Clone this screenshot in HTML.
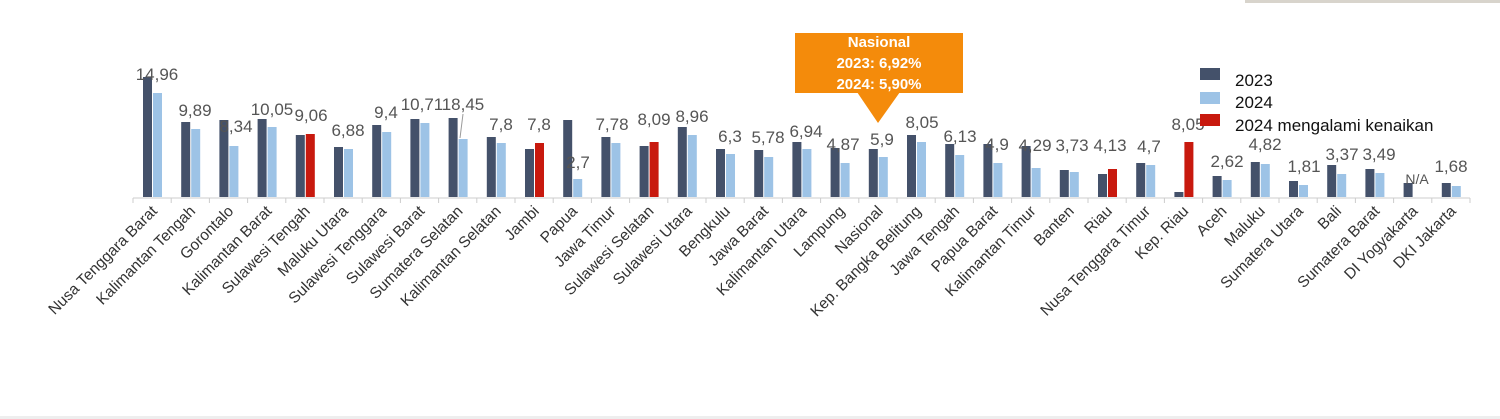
<!DOCTYPE html>
<html><head><meta charset="utf-8"><style>
html,body{margin:0;padding:0;background:#fff;}
svg{display:block;}
.v{font-family:"Liberation Sans",sans-serif;font-size:17px;fill:#555;text-anchor:middle;}
.c{font-family:"Liberation Sans",sans-serif;font-size:15.5px;fill:#333;text-anchor:end;}
.d{fill:#44516a;} .l{fill:#9dc3e6;} .r{fill:#c8190e;}
.lg{font-family:"Liberation Sans",sans-serif;font-size:17px;fill:#111;}
</style></head><body>
<svg width="1500" height="419" viewBox="0 0 1500 419" xmlns="http://www.w3.org/2000/svg">
<rect x="1245" y="0" width="255" height="3" fill="#d8d4cc"/>
<rect x="0" y="416" width="1500" height="3" fill="#eeeeee"/>
<line x1="133" y1="198" x2="1470" y2="198" stroke="#ccc" stroke-width="1"/>
<g stroke="#ccc">
<line x1="133" y1="198" x2="133" y2="203"/><line x1="171.2" y1="198" x2="171.2" y2="203"/><line x1="209.4" y1="198" x2="209.4" y2="203"/><line x1="247.6" y1="198" x2="247.6" y2="203"/><line x1="285.8" y1="198" x2="285.8" y2="203"/><line x1="324" y1="198" x2="324" y2="203"/><line x1="362.2" y1="198" x2="362.2" y2="203"/><line x1="400.4" y1="198" x2="400.4" y2="203"/><line x1="438.6" y1="198" x2="438.6" y2="203"/><line x1="476.8" y1="198" x2="476.8" y2="203"/><line x1="515" y1="198" x2="515" y2="203"/><line x1="553.2" y1="198" x2="553.2" y2="203"/><line x1="591.4" y1="198" x2="591.4" y2="203"/><line x1="629.6" y1="198" x2="629.6" y2="203"/><line x1="667.8" y1="198" x2="667.8" y2="203"/><line x1="706" y1="198" x2="706" y2="203"/><line x1="744.2" y1="198" x2="744.2" y2="203"/><line x1="782.4" y1="198" x2="782.4" y2="203"/><line x1="820.6" y1="198" x2="820.6" y2="203"/><line x1="858.8" y1="198" x2="858.8" y2="203"/><line x1="897" y1="198" x2="897" y2="203"/><line x1="935.2" y1="198" x2="935.2" y2="203"/><line x1="973.4" y1="198" x2="973.4" y2="203"/><line x1="1011.6" y1="198" x2="1011.6" y2="203"/><line x1="1049.8" y1="198" x2="1049.8" y2="203"/><line x1="1088" y1="198" x2="1088" y2="203"/><line x1="1126.2" y1="198" x2="1126.2" y2="203"/><line x1="1164.4" y1="198" x2="1164.4" y2="203"/><line x1="1202.6" y1="198" x2="1202.6" y2="203"/><line x1="1240.8" y1="198" x2="1240.8" y2="203"/><line x1="1279" y1="198" x2="1279" y2="203"/><line x1="1317.2" y1="198" x2="1317.2" y2="203"/><line x1="1355.4" y1="198" x2="1355.4" y2="203"/><line x1="1393.6" y1="198" x2="1393.6" y2="203"/><line x1="1431.8" y1="198" x2="1431.8" y2="203"/><line x1="1470" y1="198" x2="1470" y2="203"/>
</g>
<rect class="d" x="143" y="77" width="9" height="120"/><rect class="l" x="153" y="93" width="9" height="104"/>
<rect class="d" x="181.2" y="122" width="9" height="75"/><rect class="l" x="191.2" y="129" width="9" height="68"/>
<rect class="d" x="219.4" y="120" width="9" height="77"/><rect class="l" x="229.4" y="146" width="9" height="51"/>
<rect class="d" x="257.6" y="119" width="9" height="78"/><rect class="l" x="267.6" y="127" width="9" height="70"/>
<rect class="d" x="295.8" y="135" width="9" height="62"/><rect class="r" x="305.8" y="134" width="9" height="63"/>
<rect class="d" x="334" y="147" width="9" height="50"/><rect class="l" x="344" y="149" width="9" height="48"/>
<rect class="d" x="372.2" y="125" width="9" height="72"/><rect class="l" x="382.2" y="132" width="9" height="65"/>
<rect class="d" x="410.4" y="119" width="9" height="78"/><rect class="l" x="420.4" y="123" width="9" height="74"/>
<rect class="d" x="448.6" y="118" width="9" height="79"/><rect class="l" x="458.6" y="139" width="9" height="58"/>
<rect class="d" x="486.8" y="137" width="9" height="60"/><rect class="l" x="496.8" y="143" width="9" height="54"/>
<rect class="d" x="525" y="149" width="9" height="48"/><rect class="r" x="535" y="143" width="9" height="54"/>
<rect class="d" x="563.2" y="120" width="9" height="77"/><rect class="l" x="573.2" y="179" width="9" height="18"/>
<rect class="d" x="601.4" y="137" width="9" height="60"/><rect class="l" x="611.4" y="143" width="9" height="54"/>
<rect class="d" x="639.6" y="146" width="9" height="51"/><rect class="r" x="649.6" y="142" width="9" height="55"/>
<rect class="d" x="677.8" y="127" width="9" height="70"/><rect class="l" x="687.8" y="135" width="9" height="62"/>
<rect class="d" x="716" y="149" width="9" height="48"/><rect class="l" x="726" y="154" width="9" height="43"/>
<rect class="d" x="754.2" y="150" width="9" height="47"/><rect class="l" x="764.2" y="157" width="9" height="40"/>
<rect class="d" x="792.4" y="142" width="9" height="55"/><rect class="l" x="802.4" y="149" width="9" height="48"/>
<rect class="d" x="830.6" y="148" width="9" height="49"/><rect class="l" x="840.6" y="163" width="9" height="34"/>
<rect class="d" x="868.8" y="149" width="9" height="48"/><rect class="l" x="878.8" y="157" width="9" height="40"/>
<rect class="d" x="907" y="135" width="9" height="62"/><rect class="l" x="917" y="142" width="9" height="55"/>
<rect class="d" x="945.2" y="144" width="9" height="53"/><rect class="l" x="955.2" y="155" width="9" height="42"/>
<rect class="d" x="983.4" y="144" width="9" height="53"/><rect class="l" x="993.4" y="163" width="9" height="34"/>
<rect class="d" x="1021.6" y="146" width="9" height="51"/><rect class="l" x="1031.6" y="168" width="9" height="29"/>
<rect class="d" x="1059.8" y="170" width="9" height="27"/><rect class="l" x="1069.8" y="172" width="9" height="25"/>
<rect class="d" x="1098" y="174" width="9" height="23"/><rect class="r" x="1108" y="169" width="9" height="28"/>
<rect class="d" x="1136.2" y="163" width="9" height="34"/><rect class="l" x="1146.2" y="165" width="9" height="32"/>
<rect class="d" x="1174.4" y="192" width="9" height="5"/><rect class="r" x="1184.4" y="142" width="9" height="55"/>
<rect class="d" x="1212.6" y="176" width="9" height="21"/><rect class="l" x="1222.6" y="180" width="9" height="17"/>
<rect class="d" x="1250.8" y="162" width="9" height="35"/><rect class="l" x="1260.8" y="164" width="9" height="33"/>
<rect class="d" x="1289" y="181" width="9" height="16"/><rect class="l" x="1299" y="185" width="9" height="12"/>
<rect class="d" x="1327.2" y="165" width="9" height="32"/><rect class="l" x="1337.2" y="174" width="9" height="23"/>
<rect class="d" x="1365.4" y="169" width="9" height="28"/><rect class="l" x="1375.4" y="173" width="9" height="24"/>
<rect class="d" x="1403.6" y="183" width="9" height="14"/>
<rect class="d" x="1441.8" y="183" width="9" height="14"/><rect class="l" x="1451.8" y="186" width="9" height="11"/>
<text class="v" x="157" y="80">14,96</text>
<text class="v" x="195" y="116">9,89</text>
<text class="v" x="236" y="132">8,34</text>
<text class="v" x="272" y="115">10,05</text>
<text class="v" x="311" y="121">9,06</text>
<text class="v" x="348" y="136">6,88</text>
<text class="v" x="386" y="118">9,4</text>
<text class="v" x="422" y="110">10,71</text>
<text class="v" x="463" y="110">18,45</text>
<line x1="463" y1="114" x2="460" y2="138" stroke="#999" stroke-width="1"/>
<text class="v" x="501" y="130">7,8</text>
<text class="v" x="539" y="130">7,8</text>
<text class="v" x="578" y="168">2,7</text>
<text class="v" x="612" y="130">7,78</text>
<text class="v" x="654" y="125">8,09</text>
<text class="v" x="692" y="122">8,96</text>
<text class="v" x="730" y="142">6,3</text>
<text class="v" x="768" y="143">5,78</text>
<text class="v" x="806" y="137">6,94</text>
<text class="v" x="843" y="150">4,87</text>
<text class="v" x="882" y="145">5,9</text>
<text class="v" x="922" y="128">8,05</text>
<text class="v" x="960" y="142">6,13</text>
<text class="v" x="997" y="150">4,9</text>
<text class="v" x="1035" y="151">4,29</text>
<text class="v" x="1072" y="151">3,73</text>
<text class="v" x="1110" y="151">4,13</text>
<text class="v" x="1149" y="152">4,7</text>
<text class="v" x="1188" y="130">8,05</text>
<text class="v" x="1227" y="167">2,62</text>
<text class="v" x="1265" y="150">4,82</text>
<text class="v" x="1304" y="172">1,81</text>
<text class="v" x="1342" y="160">3,37</text>
<text class="v" x="1379" y="160">3,49</text>
<text class="v" x="1417" y="184" style="font-size:14px">N/A</text>
<text class="v" x="1451" y="172">1,68</text>
<g>
<text class="c" transform="translate(158,212) rotate(-45)">Nusa Tenggara Barat</text>
<text class="c" transform="translate(196.2,212) rotate(-45)">Kalimantan Tengah</text>
<text class="c" transform="translate(234.4,212) rotate(-45)">Gorontalo</text>
<text class="c" transform="translate(272.6,212) rotate(-45)">Kalimantan Barat</text>
<text class="c" transform="translate(310.8,212) rotate(-45)">Sulawesi Tengah</text>
<text class="c" transform="translate(349,212) rotate(-45)">Maluku Utara</text>
<text class="c" transform="translate(387.2,212) rotate(-45)">Sulawesi Tenggara</text>
<text class="c" transform="translate(425.4,212) rotate(-45)">Sulawesi Barat</text>
<text class="c" transform="translate(463.6,212) rotate(-45)">Sumatera Selatan</text>
<text class="c" transform="translate(501.8,212) rotate(-45)">Kalimantan Selatan</text>
<text class="c" transform="translate(540,212) rotate(-45)">Jambi</text>
<text class="c" transform="translate(578.2,212) rotate(-45)">Papua</text>
<text class="c" transform="translate(616.4,212) rotate(-45)">Jawa Timur</text>
<text class="c" transform="translate(654.6,212) rotate(-45)">Sulawesi Selatan</text>
<text class="c" transform="translate(692.8,212) rotate(-45)">Sulawesi Utara</text>
<text class="c" transform="translate(731,212) rotate(-45)">Bengkulu</text>
<text class="c" transform="translate(769.2,212) rotate(-45)">Jawa Barat</text>
<text class="c" transform="translate(807.4,212) rotate(-45)">Kalimantan Utara</text>
<text class="c" transform="translate(845.6,212) rotate(-45)">Lampung</text>
<text class="c" transform="translate(883.8,212) rotate(-45)">Nasional</text>
<text class="c" transform="translate(922,212) rotate(-45)">Kep. Bangka Belitung</text>
<text class="c" transform="translate(960.2,212) rotate(-45)">Jawa Tengah</text>
<text class="c" transform="translate(998.4,212) rotate(-45)">Papua Barat</text>
<text class="c" transform="translate(1036.6,212) rotate(-45)">Kalimantan Timur</text>
<text class="c" transform="translate(1074.8,212) rotate(-45)">Banten</text>
<text class="c" transform="translate(1113,212) rotate(-45)">Riau</text>
<text class="c" transform="translate(1151.2,212) rotate(-45)">Nusa Tenggara Timur</text>
<text class="c" transform="translate(1189.4,212) rotate(-45)">Kep. Riau</text>
<text class="c" transform="translate(1227.6,212) rotate(-45)">Aceh</text>
<text class="c" transform="translate(1265.8,212) rotate(-45)">Maluku</text>
<text class="c" transform="translate(1304,212) rotate(-45)">Sumatera Utara</text>
<text class="c" transform="translate(1342.2,212) rotate(-45)">Bali</text>
<text class="c" transform="translate(1380.4,212) rotate(-45)">Sumatera Barat</text>
<text class="c" transform="translate(1418.6,212) rotate(-45)">DI Yogyakarta</text>
<text class="c" transform="translate(1456.8,212) rotate(-45)">DKI Jakarta</text>
</g>
<rect x="795" y="33" width="168" height="60" fill="#f48b0b"/>
<polygon points="857,92 900,92 878,123" fill="#f48b0b"/>
<g font-family="Liberation Sans, sans-serif" font-weight="bold" font-size="15" fill="#fff" text-anchor="middle">
<text x="879" y="47">Nasional</text>
<text x="879" y="68">2023: 6,92%</text>
<text x="879" y="89">2024: 5,90%</text>
</g>
<rect x="1200" y="68" width="20" height="12" fill="#44516a"/>
<rect x="1200" y="92" width="20" height="12" fill="#9dc3e6"/>
<rect x="1200" y="114" width="20" height="12" fill="#c8190e"/>
<text class="lg" x="1235" y="86">2023</text>
<text class="lg" x="1235" y="108">2024</text>
<text class="lg" x="1235" y="131">2024 mengalami kenaikan</text>
</svg>
</body></html>
